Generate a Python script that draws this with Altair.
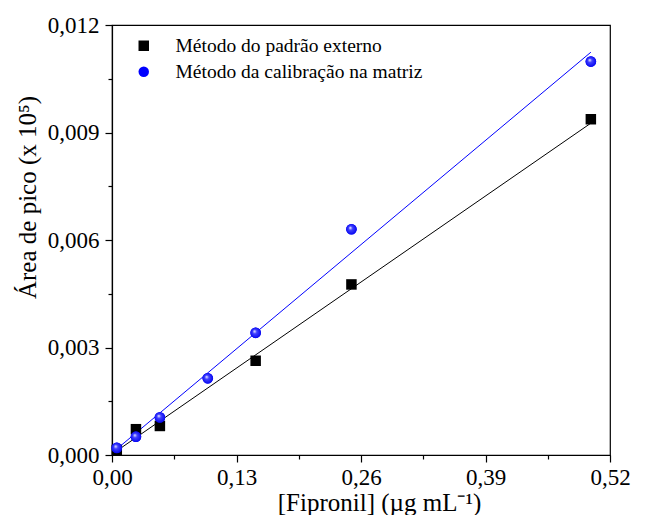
import altair as alt
import pandas as pd

series_names = ["Método do padrão externo", "Método da calibração na matriz"]

ext_x = [0.005, 0.025, 0.05, 0.15, 0.25, 0.5]
ext_y = [0.00014, 0.00072, 0.00081, 0.00263, 0.00476, 0.00937]

mat_x = [0.005, 0.025, 0.05, 0.10, 0.15, 0.25, 0.5]
mat_y = [0.00020, 0.00051, 0.00105, 0.00214, 0.00341, 0.00630, 0.01098]

fit_x = [0.002, 0.5]
ext_fit = [0.00006, 0.00926]
mat_fit = [0.00010, 0.01124]

x_ticks = [0, 0.065, 0.13, 0.195, 0.26, 0.325, 0.39, 0.455, 0.52]
y_ticks = [0, 0.0015, 0.003, 0.0045, 0.006, 0.0075, 0.009, 0.0105, 0.012]

pts = pd.DataFrame({
    "x": ext_x + mat_x,
    "y": ext_y + mat_y,
    "serie": [series_names[0]] * len(ext_x) + [series_names[1]] * len(mat_x),
})
blue_pts = pd.DataFrame({"x": mat_x, "y": mat_y})
fit_ext = pd.DataFrame({"x": fit_x, "y": ext_fit})
fit_mat = pd.DataFrame({"x": fit_x, "y": mat_fit})

FONT = "Liberation Serif"

x_major = "abs(datum.value/0.13 - round(datum.value/0.13)) < 0.01"
y_major = "abs(datum.value/0.003 - round(datum.value/0.003)) < 0.01"

x_enc = alt.X(
    "x:Q",
    scale=alt.Scale(domain=[0, 0.52], nice=False, zero=False),
    axis=alt.Axis(
        values=x_ticks,
        title="[Fipronil] (µg mL⁻¹)",
        labelExpr=f"({x_major}) ? replace(format(datum.value, '.2f'), '.', ',') : ''",
        tickSize={"condition": {"test": x_major, "value": 7}, "value": 4},
        labelPadding=4,
        titlePadding=1,
        titleX=267,
    ),
)
y_enc = alt.Y(
    "y:Q",
    scale=alt.Scale(domain=[0, 0.012], nice=False, zero=False),
    axis=alt.Axis(
        values=y_ticks,
        title="Área de pico (x 10⁵)",
        labelExpr=f"({y_major}) ? replace(format(datum.value, '.3f'), '.', ',') : ''",
        tickSize={"condition": {"test": y_major, "value": 7}, "value": 4},
        labelPadding=6,
        titlePadding=7,
        titleY=172,
    ),
)

line_ext = alt.Chart(fit_ext).mark_line(color="black", strokeWidth=1).encode(x=x_enc, y=y_enc)
line_mat = alt.Chart(fit_mat).mark_line(color="#0000ff", strokeWidth=1).encode(x=x_enc, y=y_enc)

legend = alt.Legend(title=None, orient="none", legendX=22, legendY=11)

points = alt.Chart(pts).mark_point(filled=True, size=110, opacity=1).encode(
    x=x_enc,
    y=y_enc,
    color=alt.Color("serie:N", scale=alt.Scale(domain=series_names, range=["black", "#0000ff"]), legend=legend),
    shape=alt.Shape("serie:N", scale=alt.Scale(domain=series_names, range=["square", "circle"]), legend=legend),
)

grad = alt.RadialGradient(
    gradient="radial",
    stops=[
        alt.GradientStop(color="#ffffff", offset=0),
        alt.GradientStop(color="#4040ff", offset=0.35),
        alt.GradientStop(color="#0000ee", offset=1),
    ],
    x1=0.38, y1=0.35, r1=0,
    x2=0.5, y2=0.5, r2=0.55,
)
blue_overlay = alt.Chart(blue_pts).mark_point(
    shape="circle", filled=True, size=115, fill=grad, opacity=1, strokeWidth=0
).encode(x=x_enc, y=y_enc)

chart = alt.layer(line_ext, line_mat, points, blue_overlay).properties(
    width=498,
    height=430,
    autosize=alt.AutoSizeParams(type="none"),
    padding={"left": 104, "top": 17, "right": 50, "bottom": 60},
).configure_view(
    stroke="black", strokeWidth=1.2
).configure_axis(
    domainWidth=1.2,
    tickWidth=1.2,
    grid=False,
    domainColor="black",
    tickColor="black",
    labelColor="black",
    titleColor="black",
    labelFont=FONT,
    titleFont=FONT,
    labelFontSize=23,
    titleFontSize=25,
    titleFontWeight="normal",
    labelFlush=False,
).configure_legend(
    labelFont=FONT,
    labelFontSize=19.5,
    labelColor="black",
    labelLimit=0,
    symbolSize=110,
    symbolStrokeWidth=0,
    rowPadding=5,
    labelOffset=22,
)

chart.save("out.html", embed_options={"renderer": "svg", "actions": False})
